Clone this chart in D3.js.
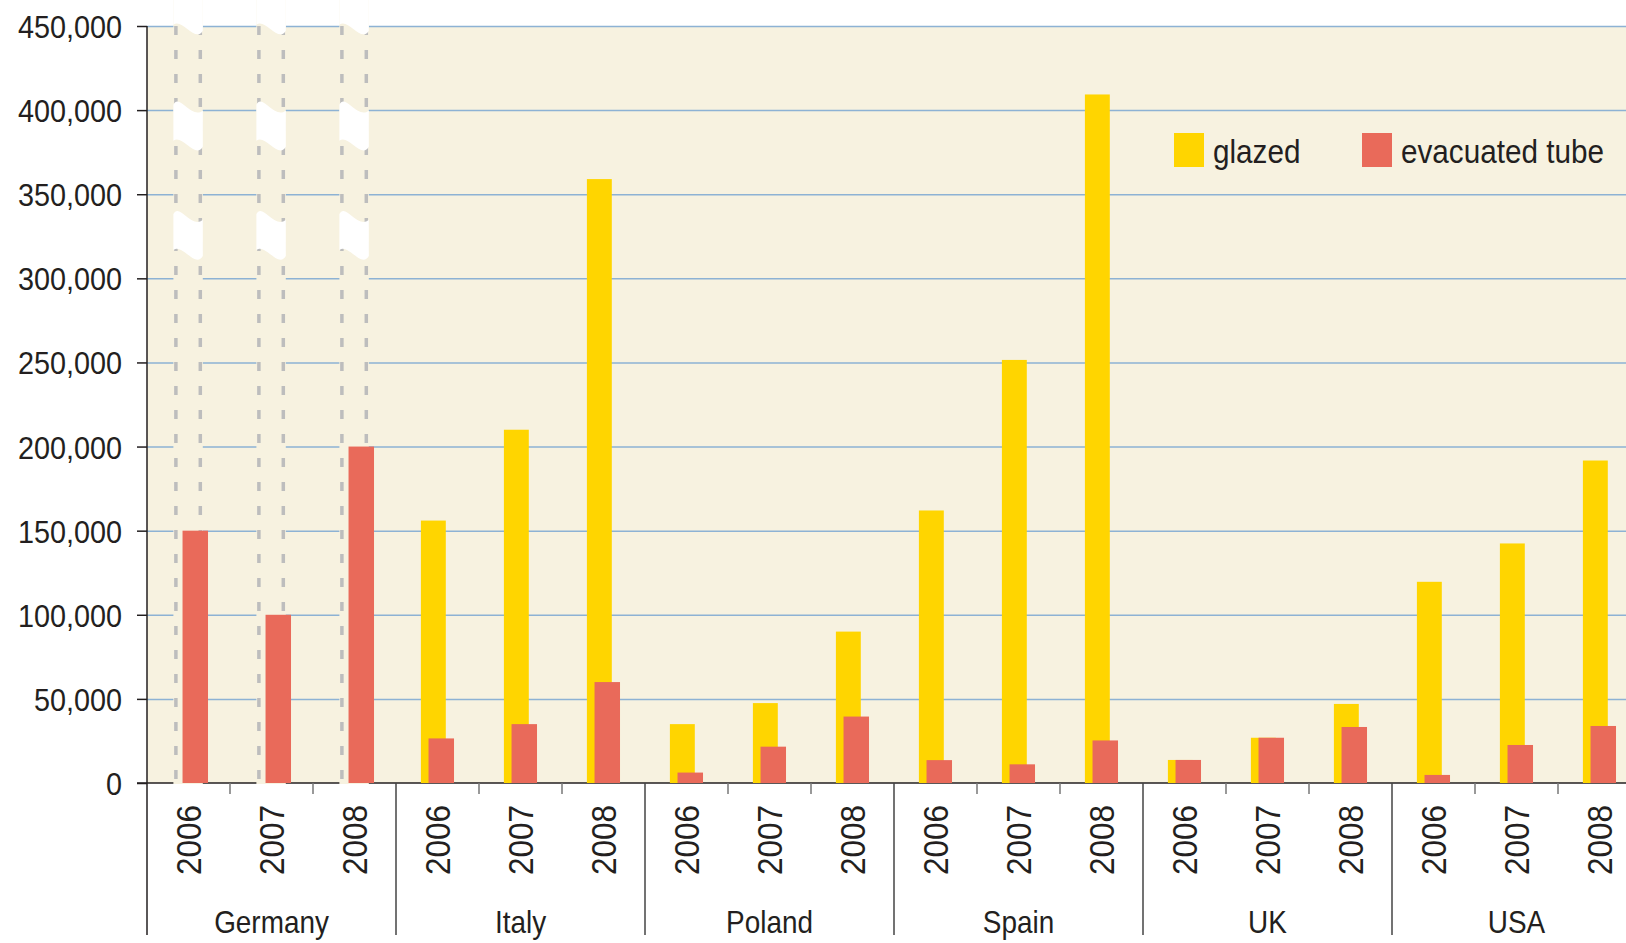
<!DOCTYPE html>
<html>
<head>
<meta charset="utf-8">
<script src="https://cdnjs.cloudflare.com/ajax/libs/d3/7.8.5/d3.min.js"></script>
<style>
  body { margin: 0; background: #fff; }
  text { font-family: "Liberation Sans", Arial, sans-serif; fill: #231f20; }
</style>
</head>
<body>
<div id="chart"></div>
<script>

// data (Germany glazed is off the scale -> null, drawn as a broken column)
var countries = ["Germany", "Italy", "Poland", "Spain", "UK", "USA"];
var years = ["2006", "2007", "2008"];
var glazed = [null, null, null, 156000, 210000, 359000, 35000, 47500, 90000,
    162000, 251500, 409300, 13700, 26900, 47000, 119600, 142400, 191700];
var evacuated = [150000, 100000, 200000, 26500, 35000, 60000, 6200, 21600, 39500,
    13600, 11100, 25300, 13700, 26900, 33300, 4800, 22600, 33900];
var yTicks = [0, 50000, 100000, 150000, 200000, 250000, 300000, 350000, 400000, 450000];
var breaks = [474000, 405000, 340000]; // where the white break marks sit on the broken columns
var seriesNames = ["glazed", "evacuated tube"];
var colors = ["#ffd500", "#e96a5a"];

var W = 1626, H = 943;
var svg = d3.select("#chart")
    .append("svg")
    .attr("width", W)
    .attr("height", H);

var plotLeft = 147, plotTop = 26, plotBase = 783, slot = 83;
var plotRight = plotLeft + slot * 18; // runs past the window edge like the original

var rows = [];
countries.forEach(function (c, ci) {
    years.forEach(function (yr, yi) {
        var i = ci * 3 + yi;
        rows.push({ key: c + "|" + yr, country: c, year: yr, idx: i, glazed: glazed[i], evac: evacuated[i] });
    });
});

var x = d3.scaleBand().domain(rows.map(function (d) { return d.key; })).range([plotLeft, plotRight]);
var y = d3.scaleLinear().domain([0, 450000]).range([plotBase, plotTop]);
var bw = x.bandwidth();

// background
svg.append("rect")
    .attr("x", plotLeft).attr("y", y(450000))
    .attr("width", W - plotLeft).attr("height", y(0) - y(450000))
    .attr("fill", "#f7f2e0");

// grid
svg.append("g")
    .attr("transform", "translate(" + plotLeft + ",0)")
    .call(d3.axisLeft(y).tickValues(yTicks.slice(1)).tickSize(-(W - plotLeft)).tickFormat(""))
    .call(function (g) { g.select(".domain").remove(); })
    .selectAll("line")
    .attr("stroke", "#8db2d4")
    .attr("stroke-width", 1.5);

// x baseline
svg.append("line")
    .attr("x1", plotLeft - 10).attr("x2", W)
    .attr("y1", y(0)).attr("y2", y(0))
    .attr("stroke", "#231f20").attr("stroke-width", 1.5);

// offsets inside each year slot
function gx(d) { return x(d.key) + bw * 0.30 + (d.glazed == null ? 3 : 0); }
function rx(d) { return x(d.key) + bw * 0.392 + (d.glazed == null ? 3 : 0); }
var gw = bw * 0.30, rw = bw * 0.307;

// broken (off-scale) glazed columns for Germany
var broken = rows.filter(function (d) { return d.glazed == null; });
var bcol = svg.append("g").selectAll("g").data(broken).enter().append("g");
bcol.append("rect")
    .attr("x", function (d) { return gx(d) - 1.5; })
    .attr("y", 0)
    .attr("width", gw + 4.5)
    .attr("height", y(0) + 1)
    .attr("fill", "#f7f2e0");
[0, 1].forEach(function (side) {
    bcol.append("line")
        .attr("x1", function (d) { return gx(d) + 1 + side * (gw - 0.5); })
        .attr("x2", function (d) { return gx(d) + 1 + side * (gw - 0.5); })
        .attr("y1", y(450000)).attr("y2", y(0))
        .attr("stroke", "#bdbdbd")
        .attr("stroke-width", 3.5)
        .attr("stroke-dasharray", "9,15");
});

// bars
svg.append("g").selectAll("rect")
    .data(rows.filter(function (d) { return d.glazed != null; }))
    .enter().append("rect")
    .attr("x", gx)
    .attr("y", function (d) { return y(d.glazed); })
    .attr("width", gw)
    .attr("height", function (d) { return y(0) - y(d.glazed); })
    .attr("fill", colors[0]);

svg.append("g").selectAll("rect")
    .data(rows)
    .enter().append("rect")
    .attr("x", rx)
    .attr("y", function (d) { return y(d.evac); })
    .attr("width", rw)
    .attr("height", function (d) { return y(0) - y(d.evac); })
    .attr("fill", colors[1]);

// white break marks on the broken columns
function breakPath(a, b, t) {
    var w = b - a, h = 36;
    return "M" + a + "," + (t + 3) +
        "C" + (a + w * 0.2) + "," + (t - 9) + " " + (a + w * 0.6) + "," + (t + 18) + " " + b + "," + (t + 9) +
        "L" + b + "," + (t + 9 + h) +
        "C" + (a + w * 0.75) + "," + (t + 22 + h) + " " + (a + w * 0.3) + "," + (t - 4 + h) + " " + a + "," + (t + 3 + h) + "Z";
}
bcol.each(function (d) {
    var g = d3.select(this);
    breaks.forEach(function (v) {
        g.append("path")
            .attr("d", breakPath(gx(d) - 1.5, gx(d) + gw + 3, y(v)))
            .attr("fill", "#fff");
    });
});

// y axis
var yAxis = svg.append("g")
    .attr("transform", "translate(" + plotLeft + ",0)")
    .call(d3.axisLeft(y).tickValues(yTicks).tickSize(10).tickSizeOuter(0).tickFormat(d3.format(",")));
yAxis.select(".domain").remove();
yAxis.selectAll("line").attr("stroke", "#231f20").attr("stroke-width", 1.5);
yAxis.selectAll("text")
    .attr("x", 0).attr("dy", "0.36em")
    .attr("transform", "translate(-25,0) scale(0.9,1)")
    .style("font-size", "32px")
    .style("font-family", "'Liberation Sans', Arial, sans-serif")
    .attr("fill", "#231f20");

svg.append("line")
    .attr("x1", plotLeft).attr("x2", plotLeft)
    .attr("y1", y(450000)).attr("y2", 935)
    .attr("stroke", "#231f20").attr("stroke-width", 1.5);

// year ticks + group separators
svg.append("g").selectAll("line")
    .data(rows.filter(function (d) { return d.idx > 0; }))
    .enter().append("line")
    .attr("x1", function (d) { return x(d.key); })
    .attr("x2", function (d) { return x(d.key); })
    .attr("y1", y(0))
    .attr("y2", function (d) { return d.idx % 3 == 0 ? 935 : y(0) + 11; })
    .attr("stroke", function (d) { return d.idx % 3 == 0 ? "#444" : "#777"; })
    .attr("stroke-width", 1.5);

// year labels
svg.append("g").selectAll("text")
    .data(rows)
    .enter().append("text")
    .attr("transform", function (d) {
        return "translate(" + (x(d.key) + bw / 2 + 12.5) + ",805) rotate(-90) scale(0.9,1)";
    })
    .attr("text-anchor", "end")
    .style("font-size", "35px")
    .text(function (d) { return d.year; });

// country labels
svg.append("g").selectAll("text")
    .data(countries)
    .enter().append("text")
    .attr("transform", function (c) {
        return "translate(" + (x(c + "|2007") + bw / 2) + ",933) scale(0.9,1)";
    })
    .attr("text-anchor", "middle")
    .style("font-size", "31px")
    .text(function (c) { return c; });

// legend
var legend = svg.append("g").selectAll("g")
    .data(seriesNames)
    .enter().append("g")
    .attr("transform", function (d, i) { return "translate(" + [1174, 1362][i] + ",133)"; });
legend.append("rect")
    .attr("width", 30).attr("height", 34)
    .attr("fill", function (d, i) { return colors[i]; });
legend.append("text")
    .attr("transform", "translate(39,30) scale(0.9,1)")
    .style("font-size", "33px")
    .text(function (d) { return d; });

</script>
</body>
</html>
